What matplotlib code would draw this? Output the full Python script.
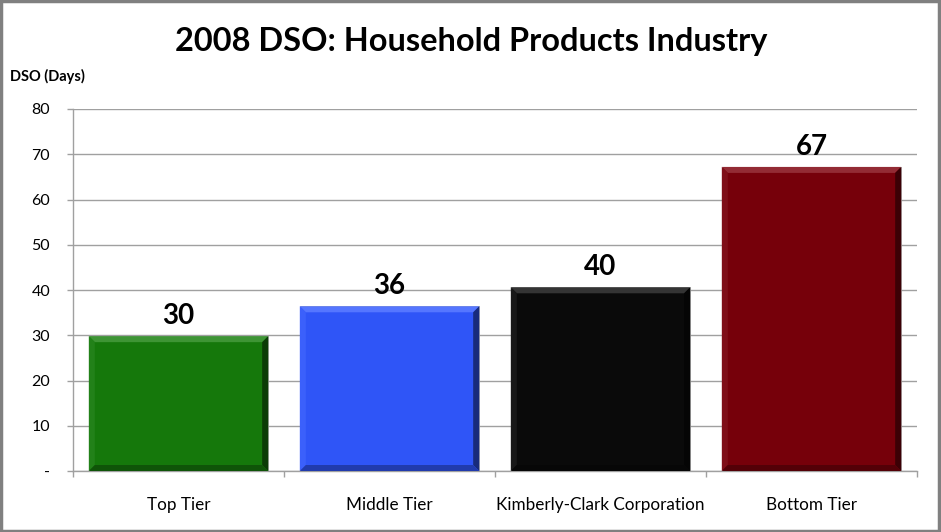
import matplotlib
matplotlib.use("Agg")
import matplotlib.pyplot as plt
from matplotlib.patches import Polygon, Rectangle
import matplotlib.colors as mcolors
import numpy as np

categories = ["Top Tier", "Middle Tier", "Kimberly-Clark Corporation", "Bottom Tier"]
values = [29.8, 36.4, 40.6, 67.2]
labels = ["30", "36", "40", "67"]
colors = ["#15780B", "#2F55F7", "#0A0A0A", "#76000A"]
yticks = [0, 10, 20, 30, 40, 50, 60, 70, 80]
ytick_labels = ["-", "10", "20", "30", "40", "50", "60", "70", "80"]

plt.rcParams['font.family'] = ['Lato', 'DejaVu Sans']

W, H = 941, 532
fig = plt.figure(figsize=(W / 100, H / 100), dpi=100)
ax = fig.add_axes([73 / W, 1 - 471 / H, (917 - 73) / W, (471 - 109) / H])

x = np.arange(len(categories))
bars = ax.bar(x, values, width=0.85, color=colors, zorder=3, edgecolor="#a8a8a8", linewidth=0.6)
ax.set_xlim(-0.5, len(categories) - 0.5)
ax.set_ylim(0, 80)

# subtle bevel effect
fig.canvas.draw()
px_x = 1.0 / (ax.transData.transform((1, 0))[0] - ax.transData.transform((0, 0))[0])
px_y = 1.0 / (ax.transData.transform((0, 1))[1] - ax.transData.transform((0, 0))[1])
bw = 6
for b, c in zip(bars, colors):
    x0, y0 = b.get_x(), b.get_y()
    x1, y1 = x0 + b.get_width(), y0 + b.get_height()
    dx, dy = bw * px_x, bw * px_y
    base = np.array(mcolors.to_rgb(c))
    light = np.clip(base + (1 - base) * 0.12 + 0.05, 0, 1)
    lighter = np.clip(base + (1 - base) * 0.04 + 0.015, 0, 1)
    dark = base * 0.7
    darker = base * 0.5
    ax.add_patch(Polygon([(x0, y1), (x1, y1), (x1 - dx, y1 - dy), (x0 + dx, y1 - dy)],
                         closed=True, facecolor=light, edgecolor="none", zorder=4))
    ax.add_patch(Polygon([(x0, y0), (x0, y1), (x0 + dx, y1 - dy), (x0 + dx, y0 + dy)],
                         closed=True, facecolor=lighter, edgecolor="none", zorder=4))
    ax.add_patch(Polygon([(x1, y0), (x1, y1), (x1 - dx, y1 - dy), (x1 - dx, y0 + dy)],
                         closed=True, facecolor=darker, edgecolor="none", zorder=4))
    ax.add_patch(Polygon([(x0, y0), (x1, y0), (x1 - dx, y0 + dy), (x0 + dx, y0 + dy)],
                         closed=True, facecolor=dark, edgecolor="none", zorder=4))

for b, lab in zip(bars, labels):
    ax.annotate(lab, (b.get_x() + b.get_width() / 2, b.get_height()),
                xytext=(0, 5), textcoords="offset points",
                ha="center", va="bottom", fontsize=20, fontweight="bold", color="black")

ax.set_yticks(yticks)
ax.set_yticklabels(ytick_labels, fontsize=11.5)
ax.yaxis.grid(True, color="#a0a0a0", linewidth=1.0, zorder=0)
ax.set_axisbelow(True)
ax.tick_params(axis="y", length=4.5, color="#a0a0a0", width=1.0, pad=12)

ax.set_xticks(x)
ax.set_xticklabels(categories, fontsize=12.3)
ax.tick_params(axis="x", length=0, pad=19)
ax.set_xticks(np.arange(-0.5, len(categories)), minor=True)
ax.tick_params(axis="x", which="minor", length=4.5, color="#a0a0a0", width=1.0)

for s in ["top", "right"]:
    ax.spines[s].set_visible(False)
for s in ["left", "bottom"]:
    ax.spines[s].set_color("#a0a0a0")
    ax.spines[s].set_linewidth(1.0)

fig.text(471 / W, 1 - 42 / H, "2008 DSO: Household Products Industry",
         ha="center", va="center", fontsize=23.4, fontweight="bold")
fig.text(10 / W, 1 - 76 / H, "DSO (Days)", ha="left", va="center",
         fontsize=10.5, fontweight="bold")

fig.add_artist(Rectangle((0.001, 0.001), 0.997, 0.997, transform=fig.transFigure,
                         fill=False, edgecolor="#808080", linewidth=2.5))

fig.savefig("out.png", dpi=100)
